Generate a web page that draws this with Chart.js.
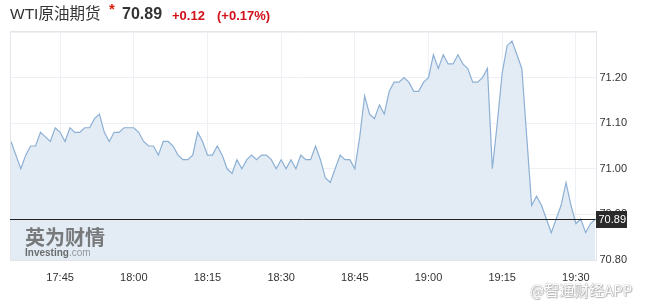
<!DOCTYPE html>
<html>
<head>
<meta charset="utf-8">
<script src="https://cdn.jsdelivr.net/npm/chart.js@4.4.1/dist/chart.umd.min.js"></script>
<style>
  html, body { margin: 0; padding: 0; background: #fff; }
  #wrap { position: relative; width: 645px; height: 308px; overflow: hidden;
          font-family: "Liberation Sans", Arial, "Noto Sans CJK SC", sans-serif; }
  #chart { position: absolute; left: 0; top: 0; }
  .head span { position: absolute; white-space: nowrap; line-height: 20px; top: 4px; }
  .name { left: 10px; font-size: 15.5px; color: #333; }
  .star { left: 109px; top: -1px !important; font-size: 15px; color: #d81e06; font-weight: bold; }
  .price { left: 122px; font-size: 16px; font-weight: bold; color: #333; }
  .chg { left: 172px; font-size: 13px; font-weight: bold; color: #d0101a; top: 6px !important; }
  .pct { left: 217px; font-size: 13px; font-weight: bold; color: #d0101a; top: 6px !important; }
  .logo { position: absolute; left: 25px; top: 225px; color: #666; opacity: 0.85; }
  .logo .cn { font-family: "Noto Sans CJK SC", sans-serif; font-weight: bold; font-size: 20px; line-height: 24px; }
  .logo .en { font-size: 10px; line-height: 10px; margin-top: -1px; }
  .logo .en b { color: #555; }
  .logo .en span { color: #888; }
  .wm { position: absolute; left: 530px; top: 280px; font-size: 15px; color: #fff;
        font-family: "Noto Sans CJK SC", sans-serif; line-height: 20px;
        text-shadow: 0 0 1px #999, 0 0 1px #999, 1px 1px 1px #bbb; }
</style>
</head>
<body>
<div id="wrap">
  <canvas id="chart" width="645" height="308"></canvas>
  <div class="head"><span class="name">WTI原油期货</span><span class="star">*</span><span class="price">70.89</span><span class="chg">+0.12</span><span class="pct">(+0.17%)</span></div>
  <div class="logo"><div class="cn">英为财情</div><div class="en"><b>Investing</b><span>.com</span></div></div>
  <div class="wm">@智通财经APP</div>
</div>
<script>
// one point per minute, 17:35 - 19:34
const startTime = '17:35';
const prices = [
    71.06, 71.03, 71.00, 71.03, 71.05, 71.05, 71.08, 71.07, 71.06, 71.09,
    71.08, 71.06, 71.09, 71.08, 71.08, 71.09, 71.09, 71.11, 71.12, 71.08,
    71.06, 71.08, 71.08, 71.09, 71.09, 71.09, 71.08, 71.06, 71.05, 71.05,
    71.03, 71.06, 71.06, 71.05, 71.03, 71.02, 71.02, 71.03, 71.08, 71.06,
    71.03, 71.03, 71.05, 71.03, 71.00, 70.99, 71.02, 71.00, 71.02, 71.03,
    71.02, 71.03, 71.03, 71.02, 71.00, 71.02, 71.00, 71.02, 71.00, 71.03,
    71.02, 71.02, 71.05, 71.02, 70.98, 70.97, 71.00, 71.03, 71.02, 71.02,
    71.00, 71.07, 71.16, 71.12, 71.11, 71.14, 71.12, 71.17, 71.19, 71.19,
    71.20, 71.19, 71.17, 71.17, 71.19, 71.20, 71.25, 71.22, 71.25, 71.23,
    71.23, 71.25, 71.23, 71.22, 71.19, 71.19, 71.20, 71.22, 71.00, 71.10,
    71.21, 71.27, 71.28, 71.25, 71.22, 71.07, 70.92, 70.94, 70.92, 70.89,
    70.86, 70.89, 70.92, 70.97, 70.92, 70.88, 70.89, 70.86, 70.88, 70.89
];
const xTickLabels = ['17:45', '18:00', '18:15', '18:30', '18:45', '19:00', '19:15', '19:30'];
const yTickValues = [70.80, 70.90, 71.00, 71.10, 71.20];
const lastPrice = 70.89;

function minuteLabel(m) {
    const h = Math.floor(m / 60);
    const mm = m % 60;
    return h + ':' + (mm < 10 ? '0' + mm : mm);
}

const startParts = startTime.split(':');
const startMin = parseInt(startParts[0]) * 60 + parseInt(startParts[1]);
const labels = prices.map((p, i) => minuteLabel(startMin + i));

const frame = {
    id: 'frame',
    afterDraw(chart) {
        const a = chart.chartArea;
        const c = chart.ctx;
        c.save();
        c.strokeStyle = '#e2e5e9';
        c.lineWidth = 1;
        c.strokeRect(10.5, Math.round(a.top) - 0.5, Math.round(a.right) - 10, Math.round(a.bottom - a.top) + 1);
        c.restore();
    }
};

const priceLine = {
    id: 'priceLine',
    afterDraw(chart) {
        const a = chart.chartArea;
        const c = chart.ctx;
        const y = Math.round(chart.scales.y.getPixelForValue(lastPrice)) + 0.5;
        c.save();
        c.strokeStyle = '#222';
        c.lineWidth = 1;
        c.beginPath();
        c.moveTo(10, y);
        c.lineTo(a.right, y);
        c.stroke();
        c.fillStyle = '#2a2a2a';
        c.fillRect(Math.round(a.right), y - 8.5, 31, 17);
        c.fillStyle = '#fff';
        c.font = '11px "Liberation Sans", Arial, sans-serif';
        c.textBaseline = 'middle';
        c.fillText(lastPrice.toFixed(2), a.right + 3, y + 0.5);
        c.restore();
    }
};

new Chart(document.getElementById('chart'), {
    type: 'line',
    data: {
        labels: labels,
        datasets: [{
            data: prices,
            borderColor: '#8db0d4',
            borderWidth: 1.2,
            backgroundColor: '#e3ecf5',
            fill: 'start',
            tension: 0,
            pointRadius: 0
        }]
    },
    options: {
        responsive: false,
        animation: false,
        devicePixelRatio: 1,
        layout: { padding: { left: 11, top: 32, right: 0, bottom: 0 } },
        plugins: {
            legend: { display: false },
            tooltip: { enabled: false }
        },
        scales: {
            x: {
                z: 1,
                afterBuildTicks: s => {
                    s.ticks = s.ticks.filter(t => xTickLabels.includes(labels[t.value]));
                },
                afterFit: s => { s.height = 48; },
                grid: { color: '#edf1f5', drawTicks: false },
                border: { display: false },
                ticks: {
                    autoSkip: false,
                    maxRotation: 0,
                    minRotation: 0,
                    padding: 11,
                    color: '#333',
                    font: { family: '"Liberation Sans", Arial, sans-serif', size: 11 }
                }
            },
            y: {
                z: 1,
                position: 'right',
                min: 70.80,
                max: 71.30,
                afterBuildTicks: s => {
                    s.ticks = yTickValues.concat([71.30]).map(v => ({ value: v }));
                },
                afterFit: s => { s.width = 49.5; },
                grid: { color: '#edf1f5', drawTicks: false },
                border: { display: false },
                ticks: {
                    padding: 4,
                    color: '#333',
                    font: { family: '"Liberation Sans", Arial, sans-serif', size: 11 },
                    callback: v => (v > 71.25 ? '' : Number(v).toFixed(2))
                }
            }
        }
    },
    plugins: [frame, priceLine]
});
</script>
</body>
</html>
